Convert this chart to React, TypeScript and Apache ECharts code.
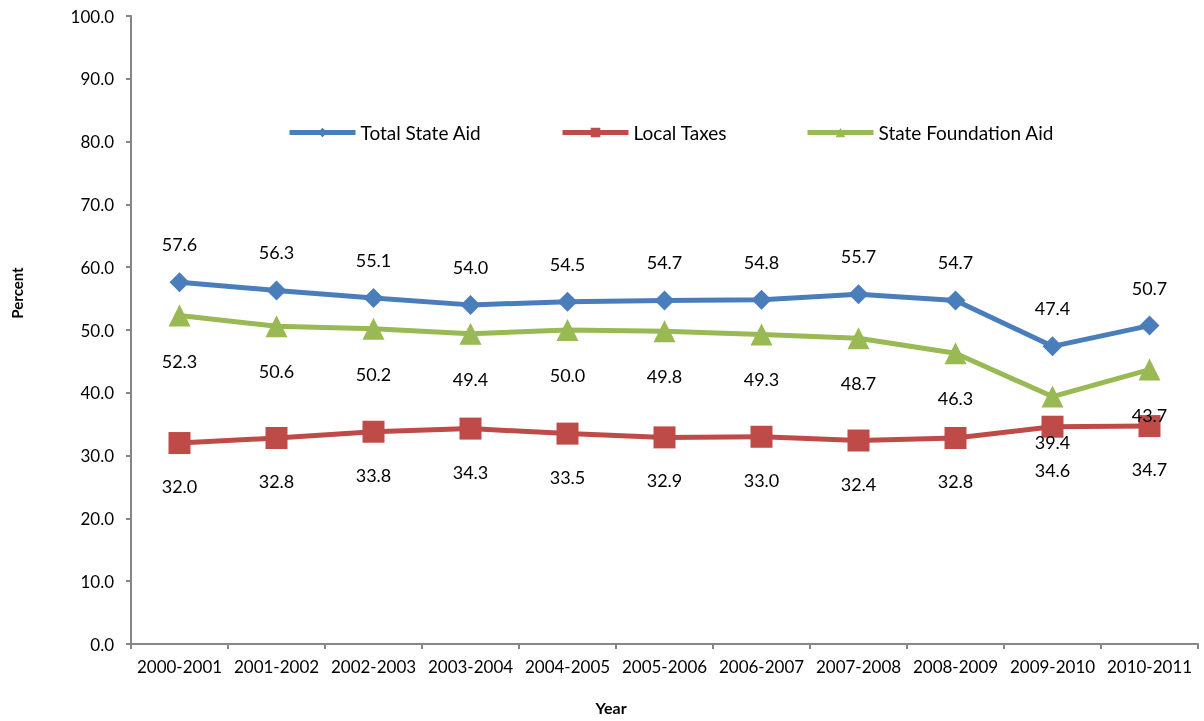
import React, { useEffect, useRef } from "react";
import * as echarts from "echarts";

const years = ["2000-2001","2001-2002","2002-2003","2003-2004","2004-2005","2005-2006","2006-2007","2007-2008","2008-2009","2009-2010","2010-2011"];
const totalStateAid = [57.6, 56.3, 55.1, 54.0, 54.5, 54.7, 54.8, 55.7, 54.7, 47.4, 50.7];
const localTaxes = [32.0, 32.8, 33.8, 34.3, 33.5, 32.9, 33.0, 32.4, 32.8, 34.6, 34.7];
const stateFoundationAid = [52.3, 50.6, 50.2, 49.4, 50.0, 49.8, 49.3, 48.7, 46.3, 39.4, 43.7];

const FONT = "Lato, 'Open Sans', sans-serif";

export default function App() {
  const ref = useRef<HTMLDivElement>(null);
  useEffect(() => {
    if (!ref.current) return;
    const chart = echarts.init(ref.current, null, { renderer: "svg" });
    const lbl = (pos: string, dist: number) => ({
      show: true,
      position: pos,
      distance: dist,
      color: "#000",
      fontSize: 18,
      fontFamily: FONT,
      formatter: (p: any) => Number(p.value).toFixed(1),
    });
    const leg = (name: string, left: number) => ({
      left,
      top: 123,
      padding: 0,
      itemWidth: 66,
      itemHeight: 12,
      lineStyle: { width: 5 },
      textStyle: { fontSize: 19, fontFamily: FONT, color: "#000" },
      data: [name],
    });
    chart.setOption({
      animation: false,
      textStyle: { fontFamily: FONT },
      grid: { left: 131, right: 6, top: 16, bottom: 77 },
      legend: [
        leg("Total State Aid", 287),
        leg("Local Taxes", 560),
        leg("State Foundation Aid", 805),
      ],
      xAxis: {
        type: "category",
        data: years,
        boundaryGap: true,
        axisLine: { lineStyle: { color: "#868686", width: 2 } },
        axisTick: { show: true, length: 5, lineStyle: { color: "#868686", width: 2 } },
        axisLabel: { color: "#000", fontSize: 17, fontFamily: FONT, margin: 14, interval: 0 },
      },
      yAxis: {
        type: "value",
        min: 0,
        max: 100,
        interval: 10,
        splitLine: { show: false },
        axisLine: { show: true, lineStyle: { color: "#868686", width: 2 } },
        axisTick: { show: true, length: 5, lineStyle: { color: "#868686", width: 2 } },
        axisLabel: { color: "#000", fontSize: 17, fontFamily: FONT, margin: 17, formatter: (v: number) => v.toFixed(1) },
      },
      graphic: [
        {
          type: "text",
          x: 17,
          y: 293,
          rotation: Math.PI / 2,
          style: { text: "Percent", fontSize: 15, fontWeight: "bold", fontFamily: FONT, fill: "#000", align: "center", verticalAlign: "middle" },
        },
        {
          type: "text",
          x: 611,
          y: 707,
          style: { text: "Year", fontSize: 16, fontWeight: "bold", fontFamily: FONT, fill: "#000", align: "center", verticalAlign: "middle" },
        },
      ],
      series: [
        {
          name: "Total State Aid",
          type: "line",
          data: totalStateAid,
          symbol: "diamond",
          symbolSize: 20,
          lineStyle: { color: "#4A7EBB", width: 5 },
          itemStyle: { color: "#4A7EBB" },
          label: lbl("top", 19),
          z: 3,
        },
        {
          name: "Local Taxes",
          type: "line",
          data: localTaxes,
          symbol: "rect",
          symbolSize: 22,
          lineStyle: { color: "#BE4B48", width: 5 },
          itemStyle: { color: "#BE4B48" },
          label: lbl("bottom", 23),
          z: 2,
        },
        {
          name: "State Foundation Aid",
          type: "line",
          data: stateFoundationAid,
          symbol: "triangle",
          symbolSize: 22,
          lineStyle: { color: "#98B954", width: 5 },
          itemStyle: { color: "#98B954" },
          label: lbl("bottom", 25),
          z: 2,
        },
      ],
    });
    return () => chart.dispose();
  }, []);
  return <div ref={ref} style={{ width: 1204, height: 721, position: "fixed", left: 0, top: 0 }} />;
}
